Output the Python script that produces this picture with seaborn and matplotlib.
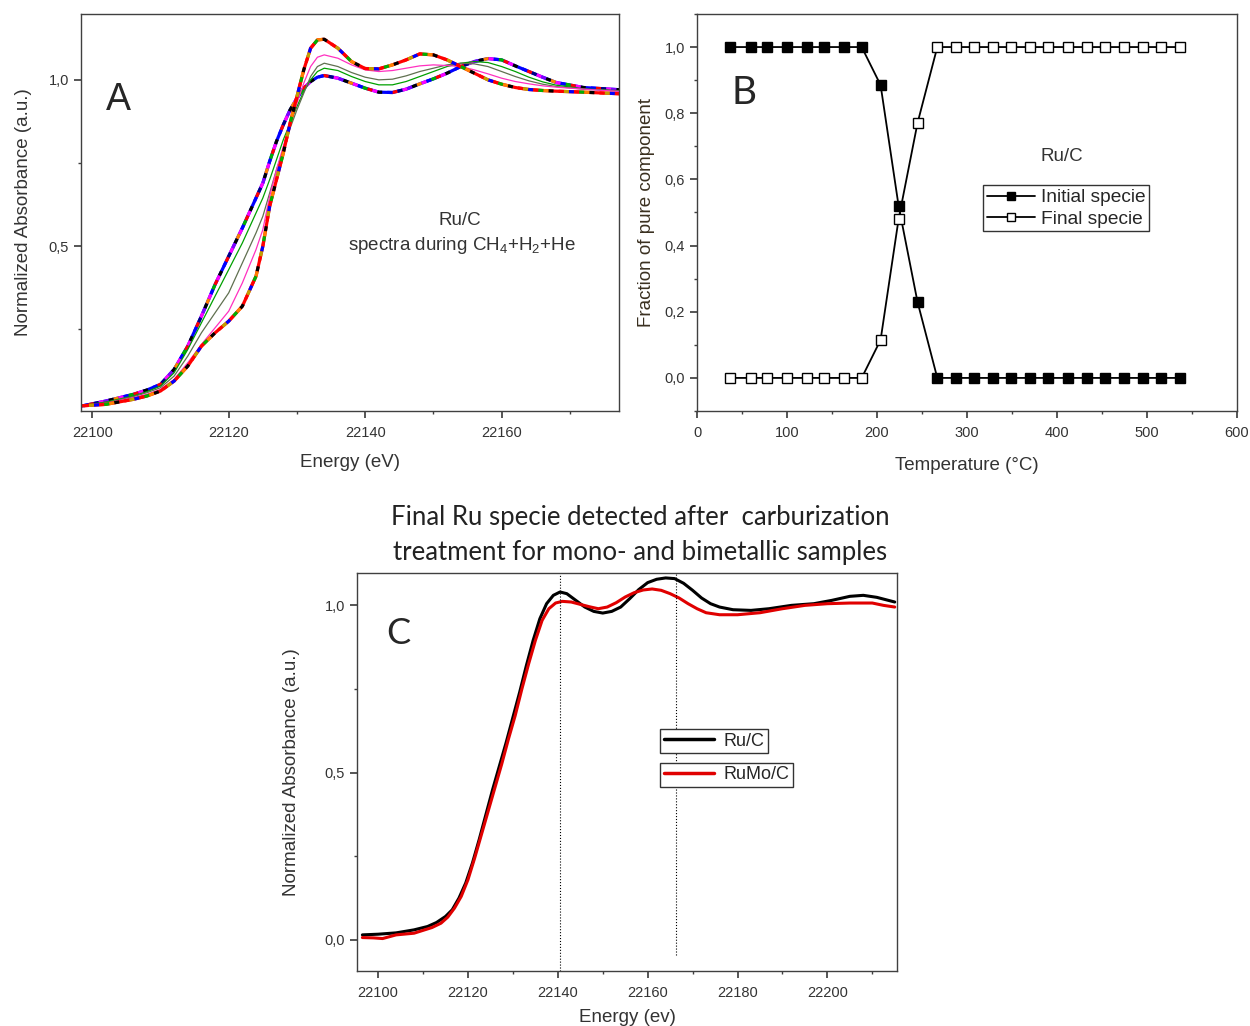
import matplotlib
matplotlib.use("Agg")
import matplotlib.pyplot as plt
from matplotlib.ticker import MultipleLocator, FuncFormatter
from matplotlib.lines import Line2D
import seaborn as sns

# ── Panel A: Ru K-edge XANES spectra during CH4+H2+He ───────────────────
energy_a = [22098, 22102, 22106, 22108, 22110, 22112, 22114, 22116, 22118, 22120,
            22122, 22124, 22125, 22126, 22127, 22128, 22129, 22130, 22131, 22132,
            22133, 22134, 22136, 22138, 22140, 22142, 22144, 22146, 22148, 22150,
            22152, 22154, 22156, 22158, 22160, 22162, 22164, 22166, 22168, 22172, 22177.5]
spec_initial = [0.020, 0.025, 0.040, 0.050, 0.065, 0.095, 0.140, 0.200, 0.240, 0.275,
                0.320, 0.410, 0.500, 0.620, 0.700, 0.780, 0.870, 0.950, 1.030, 1.095,
                1.120, 1.122, 1.095, 1.055, 1.034, 1.033, 1.045, 1.060, 1.078, 1.075,
                1.060, 1.040, 1.020, 1.000, 0.987, 0.977, 0.971, 0.968, 0.966, 0.963, 0.958]
spec_final = [0.018, 0.035, 0.055, 0.068, 0.085, 0.130, 0.200, 0.290, 0.385, 0.470,
              0.555, 0.645, 0.690, 0.755, 0.815, 0.865, 0.910, 0.945, 0.975, 0.995,
              1.008, 1.013, 1.005, 0.990, 0.975, 0.963, 0.962, 0.972, 0.988, 1.003,
              1.020, 1.040, 1.055, 1.064, 1.060, 1.042, 1.025, 1.008, 0.992, 0.977, 0.970]
spec_mix_pink = [0.020, 0.028, 0.045, 0.055, 0.070, 0.100, 0.150, 0.205, 0.255, 0.305,
                 0.390, 0.490, 0.550, 0.650, 0.730, 0.800, 0.870, 0.930, 0.990, 1.040,
                 1.068, 1.075, 1.065, 1.045, 1.030, 1.025, 1.028, 1.035, 1.042, 1.045,
                 1.043, 1.040, 1.030, 1.018, 1.005, 0.995, 0.988, 0.982, 0.978, 0.972, 0.965]
spec_mix_gray = [0.020, 0.030, 0.048, 0.060, 0.075, 0.110, 0.170, 0.240, 0.300, 0.360,
                 0.450, 0.540, 0.590, 0.660, 0.730, 0.790, 0.855, 0.910, 0.960, 1.010,
                 1.040, 1.050, 1.040, 1.022, 1.008, 1.000, 1.002, 1.012, 1.025, 1.035,
                 1.045, 1.050, 1.048, 1.040, 1.025, 1.010, 0.997, 0.987, 0.980, 0.972, 0.966]
spec_mix_green = [0.020, 0.032, 0.050, 0.063, 0.080, 0.120, 0.190, 0.270, 0.350, 0.430,
                  0.510, 0.600, 0.645, 0.700, 0.760, 0.820, 0.870, 0.920, 0.965, 1.000,
                  1.025, 1.035, 1.028, 1.010, 0.995, 0.985, 0.985, 0.995, 1.010, 1.025,
                  1.040, 1.050, 1.055, 1.052, 1.040, 1.025, 1.008, 0.994, 0.984, 0.973, 0.967]
colors_initial = ["red", "black", "#ff8000", "#00b000", "red", "blue", "#c0a000", "red"]
colors_final = ["blue", "black", "magenta", "red", "#00b000", "blue", "magenta", "#ff8000",
                "black", "#8000ff", "magenta", "navy", "red", "blue"]

# ── Panel B: linear combination fit fractions ────────────────────────────
temperature = [37, 60, 78, 100, 122, 141, 163, 183, 204, 224, 245, 267, 288,
               308, 329, 349, 370, 390, 412, 433, 453, 474, 496, 516, 537]
frac_initial = [1, 1, 1, 1, 1, 1, 1, 1, 0.885, 0.52, 0.23, 0, 0,
                0, 0, 0, 0, 0, 0, 0, 0, 0, 0, 0, 0]
frac_final = [0, 0, 0, 0, 0, 0, 0, 0, 0.115, 0.48, 0.77, 1, 1,
              1, 1, 1, 1, 1, 1, 1, 1, 1, 1, 1, 1]

# ── Panel C: final Ru specie, mono- vs bimetallic ────────────────────────
energy_ru = [22096.5, 22100, 22104, 22108, 22111, 22113, 22115, 22116.5, 22118, 22119.5,
             22121, 22122.5, 22124, 22125.5, 22127, 22128.5, 22130, 22131.5, 22133, 22134.5,
             22136, 22137.5, 22139, 22140.5, 22142, 22144, 22146, 22148, 22150, 22152,
             22154, 22156, 22158, 22160, 22162, 22164, 22166, 22168, 22170, 22172,
             22174, 22176, 22179, 22183, 22187, 22192, 22197, 22201, 22205, 22208, 22211, 22215]
absorb_ru = [0.015, 0.017, 0.021, 0.030, 0.040, 0.052, 0.070, 0.090, 0.125, 0.170,
             0.230, 0.300, 0.375, 0.450, 0.520, 0.590, 0.665, 0.740, 0.820, 0.895,
             0.960, 1.005, 1.030, 1.040, 1.035, 1.015, 0.995, 0.982, 0.977, 0.982,
             0.995, 1.020, 1.047, 1.068, 1.078, 1.082, 1.080, 1.066, 1.045, 1.022,
             1.005, 0.995, 0.987, 0.985, 0.990, 1.000, 1.005, 1.015, 1.027, 1.030, 1.024, 1.010]
energy_rumo = [22096.5, 22099, 22101, 22104, 22108, 22112, 22114, 22115.5, 22117, 22118.5,
               22120, 22121.5, 22123, 22124.5, 22126, 22127.5, 22129, 22130.5, 22132, 22133.5,
               22135, 22136.5, 22138, 22139.5, 22141, 22143, 22145, 22147, 22149, 22151,
               22153, 22155, 22157, 22159, 22161, 22163, 22165, 22167, 22169, 22171,
               22173, 22176, 22180, 22185, 22190, 22195, 22200, 22205, 22210, 22212.5, 22215]
absorb_rumo = [0.007, 0.006, 0.004, 0.015, 0.020, 0.037, 0.050, 0.068, 0.095, 0.130,
               0.180, 0.245, 0.315, 0.385, 0.455, 0.525, 0.600, 0.670, 0.750, 0.825,
               0.895, 0.955, 0.990, 1.007, 1.012, 1.010, 1.003, 0.996, 0.990, 0.995,
               1.008, 1.025, 1.038, 1.046, 1.049, 1.045, 1.035, 1.022, 1.005, 0.990,
               0.978, 0.972, 0.972, 0.978, 0.990, 1.000, 1.005, 1.007, 1.007, 1.000, 0.995]
marker_lines = [22140.5, 22166.2]

# ── style ────────────────────────────────────────────────────────────────
sns.set_theme(style="ticks")
plt.rcParams["font.family"] = ["Liberation Sans", "DejaVu Sans"]
TXT = "#333333"
comma = FuncFormatter(lambda v, p: f"{v:.1f}".replace(".", ","))


def style_axes(ax):
    for s in ax.spines.values():
        s.set_color("#404040")
        s.set_linewidth(1.0)
    ax.tick_params(which="both", direction="out", top=False, right=False,
                   colors="#404040", labelcolor=TXT, labelsize=10.5)
    ax.tick_params(which="major", length=5)
    ax.tick_params(which="minor", length=2.5)
    ax.tick_params(axis="x", which="major", pad=6)


def band(ax, x, y, colors, lw):
    # one spectrum group drawn as interleaved coloured dashes
    n = len(colors)
    d = 1.6
    sns.lineplot(x=x, y=y, color=colors[0], lw=lw, ax=ax, estimator=None, sort=False)
    for k, c in enumerate(colors[1:], 1):
        sns.lineplot(x=x, y=y, color=c, lw=lw, ax=ax, estimator=None, sort=False,
                     linestyle=(k * d, (d, (n - 1) * d)))


fig = plt.figure(figsize=(12.5, 10.26), dpi=100)
axA = fig.add_axes([0.0648, 0.5994, 0.4304, 0.387])
axB = fig.add_axes([0.5576, 0.5994, 0.432, 0.387])
axC = fig.add_axes([0.2856, 0.0536, 0.432, 0.388])

# Panel A
band(axA, energy_a, spec_final, colors_final, 2.3)
sns.lineplot(x=energy_a, y=spec_mix_green, color="#00a000", lw=0.9, ax=axA, estimator=None)
sns.lineplot(x=energy_a, y=spec_mix_gray, color="#607050", lw=0.9, ax=axA, estimator=None)
sns.lineplot(x=energy_a, y=spec_mix_pink, color="#ff30c0", lw=0.9, ax=axA, estimator=None)
band(axA, energy_a, spec_initial, colors_initial, 2.3)
axA.set_xlim(22098.35, 22177.2)
axA.set_ylim(0.005, 1.198)
axA.set_xticks([22100, 22120, 22140, 22160])
axA.xaxis.set_minor_locator(MultipleLocator(10))
axA.set_yticks([0.5, 1.0])
axA.set_yticks([0.25, 0.75], minor=True)
axA.yaxis.set_major_formatter(comma)
axA.set_xlabel("Energy (eV)", fontsize=13.5, color=TXT, labelpad=10)
axA.set_ylabel("Normalized Absorbance (a.u.)", fontsize=13.5, color=TXT, labelpad=12)
axA.text(0.069, 0.783, "A", transform=axA.transAxes, fontsize=27, ha="center", va="center")
axA.text(0.704, 0.479, "Ru/C", transform=axA.transAxes, fontsize=13.5, ha="center", va="center", color=TXT)
axA.text(0.708, 0.416, r"spectra during CH$_\mathregular{4}$+H$_\mathregular{2}$+He",
         transform=axA.transAxes, fontsize=13.5, ha="center", va="center", color=TXT)
style_axes(axA)

# Panel B
sns.lineplot(x=temperature, y=frac_initial, color="black", lw=1.3, marker="s", markersize=6.5,
             markerfacecolor="black", markeredgecolor="black", markeredgewidth=1,
             ax=axB, estimator=None)
sns.lineplot(x=temperature, y=frac_final, color="black", lw=1.3, marker="s", markersize=6.5,
             markerfacecolor="white", markeredgecolor="black", markeredgewidth=1,
             ax=axB, estimator=None)
axB.set_xlim(0, 600)
axB.set_ylim(-0.1, 1.1)
axB.xaxis.set_major_locator(MultipleLocator(100))
axB.xaxis.set_minor_locator(MultipleLocator(50))
axB.yaxis.set_major_locator(MultipleLocator(0.2))
axB.yaxis.set_minor_locator(MultipleLocator(0.1))
axB.set_yticks([0, 0.2, 0.4, 0.6, 0.8, 1.0])
axB.yaxis.set_major_formatter(comma)
axB.set_xlabel("Temperature (°C)", fontsize=13.5, color=TXT, labelpad=12)
axB.set_ylabel("Fraction of pure component", fontsize=13.5, color="#3a3020", labelpad=7)
axB.text(0.087, 0.80, "B", transform=axB.transAxes, fontsize=28, ha="center", va="center",
         family=["Lato", "DejaVu Sans"])
axB.text(0.676, 0.64, "Ru/C", transform=axB.transAxes, fontsize=13.5, ha="center", va="center", color=TXT)
hB = [Line2D([], [], color="black", lw=1.3, marker="s", markersize=5.5, markerfacecolor="black"),
      Line2D([], [], color="black", lw=1.3, marker="s", markersize=5.5, markerfacecolor="white")]
legB = axB.legend(hB, ["Initial specie", "Final specie"], loc="upper left",
                  bbox_to_anchor=(0.53, 0.569), frameon=True, fancybox=False, framealpha=1,
                  edgecolor="#333333", fontsize=13.8, handlelength=2.5, handletextpad=0.3,
                  borderpad=0.2, labelspacing=0.2, borderaxespad=0)
legB.get_frame().set_linewidth(1.0)
style_axes(axB)

# Panel C
sns.lineplot(x=energy_ru, y=absorb_ru, color="black", lw=2.2, ax=axC, estimator=None)
sns.lineplot(x=energy_rumo, y=absorb_rumo, color="#e00000", lw=2.2, ax=axC, estimator=None)
axC.axvline(marker_lines[0], color="black", lw=0.8, ls=":", ymin=0.0, ymax=1.0)
axC.axvline(marker_lines[1], color="black", lw=0.8, ls=":", ymin=0.04, ymax=1.0)
axC.set_xlim(22095.3, 22215.5)
axC.set_ylim(-0.093, 1.097)
axC.xaxis.set_major_locator(MultipleLocator(20))
axC.xaxis.set_minor_locator(MultipleLocator(10))
axC.set_xticks(range(22100, 22201, 20))
axC.set_yticks([0.0, 0.5, 1.0])
axC.set_yticks([0.25, 0.75], minor=True)
axC.yaxis.set_major_formatter(comma)
axC.set_xlabel("Energy (ev)", fontsize=13.5, color=TXT, labelpad=6)
axC.set_ylabel("Normalized Absorbance (a.u.)", fontsize=13.5, color=TXT, labelpad=18)
axC.text(0.076, 0.849, "C", transform=axC.transAxes, fontsize=26, ha="center", va="center",
         family=["Lato", "DejaVu Sans"])
leg_kw = dict(loc="upper left", frameon=True, fancybox=False, framealpha=1, edgecolor="#333333",
              fontsize=13, handlelength=2.8, handletextpad=0.5, borderpad=0.2, borderaxespad=0)
leg1 = axC.legend([Line2D([], [], color="black", lw=2.5)], ["Ru/C"],
                  bbox_to_anchor=(0.561, 0.608), **leg_kw)
axC.add_artist(leg1)
leg2 = axC.legend([Line2D([], [], color="#e00000", lw=2.5)], ["RuMo/C"],
                  bbox_to_anchor=(0.561, 0.523), **leg_kw)
style_axes(axC)

fig.text(0.512, 0.4785, "Final Ru specie detected after  carburization\ntreatment for mono- and bimetallic samples",
         ha="center", va="center", fontsize=18.5, linespacing=1.5, family=["Lato", "DejaVu Sans"],
         color="#222222")

fig.savefig("out.png", dpi=100)
